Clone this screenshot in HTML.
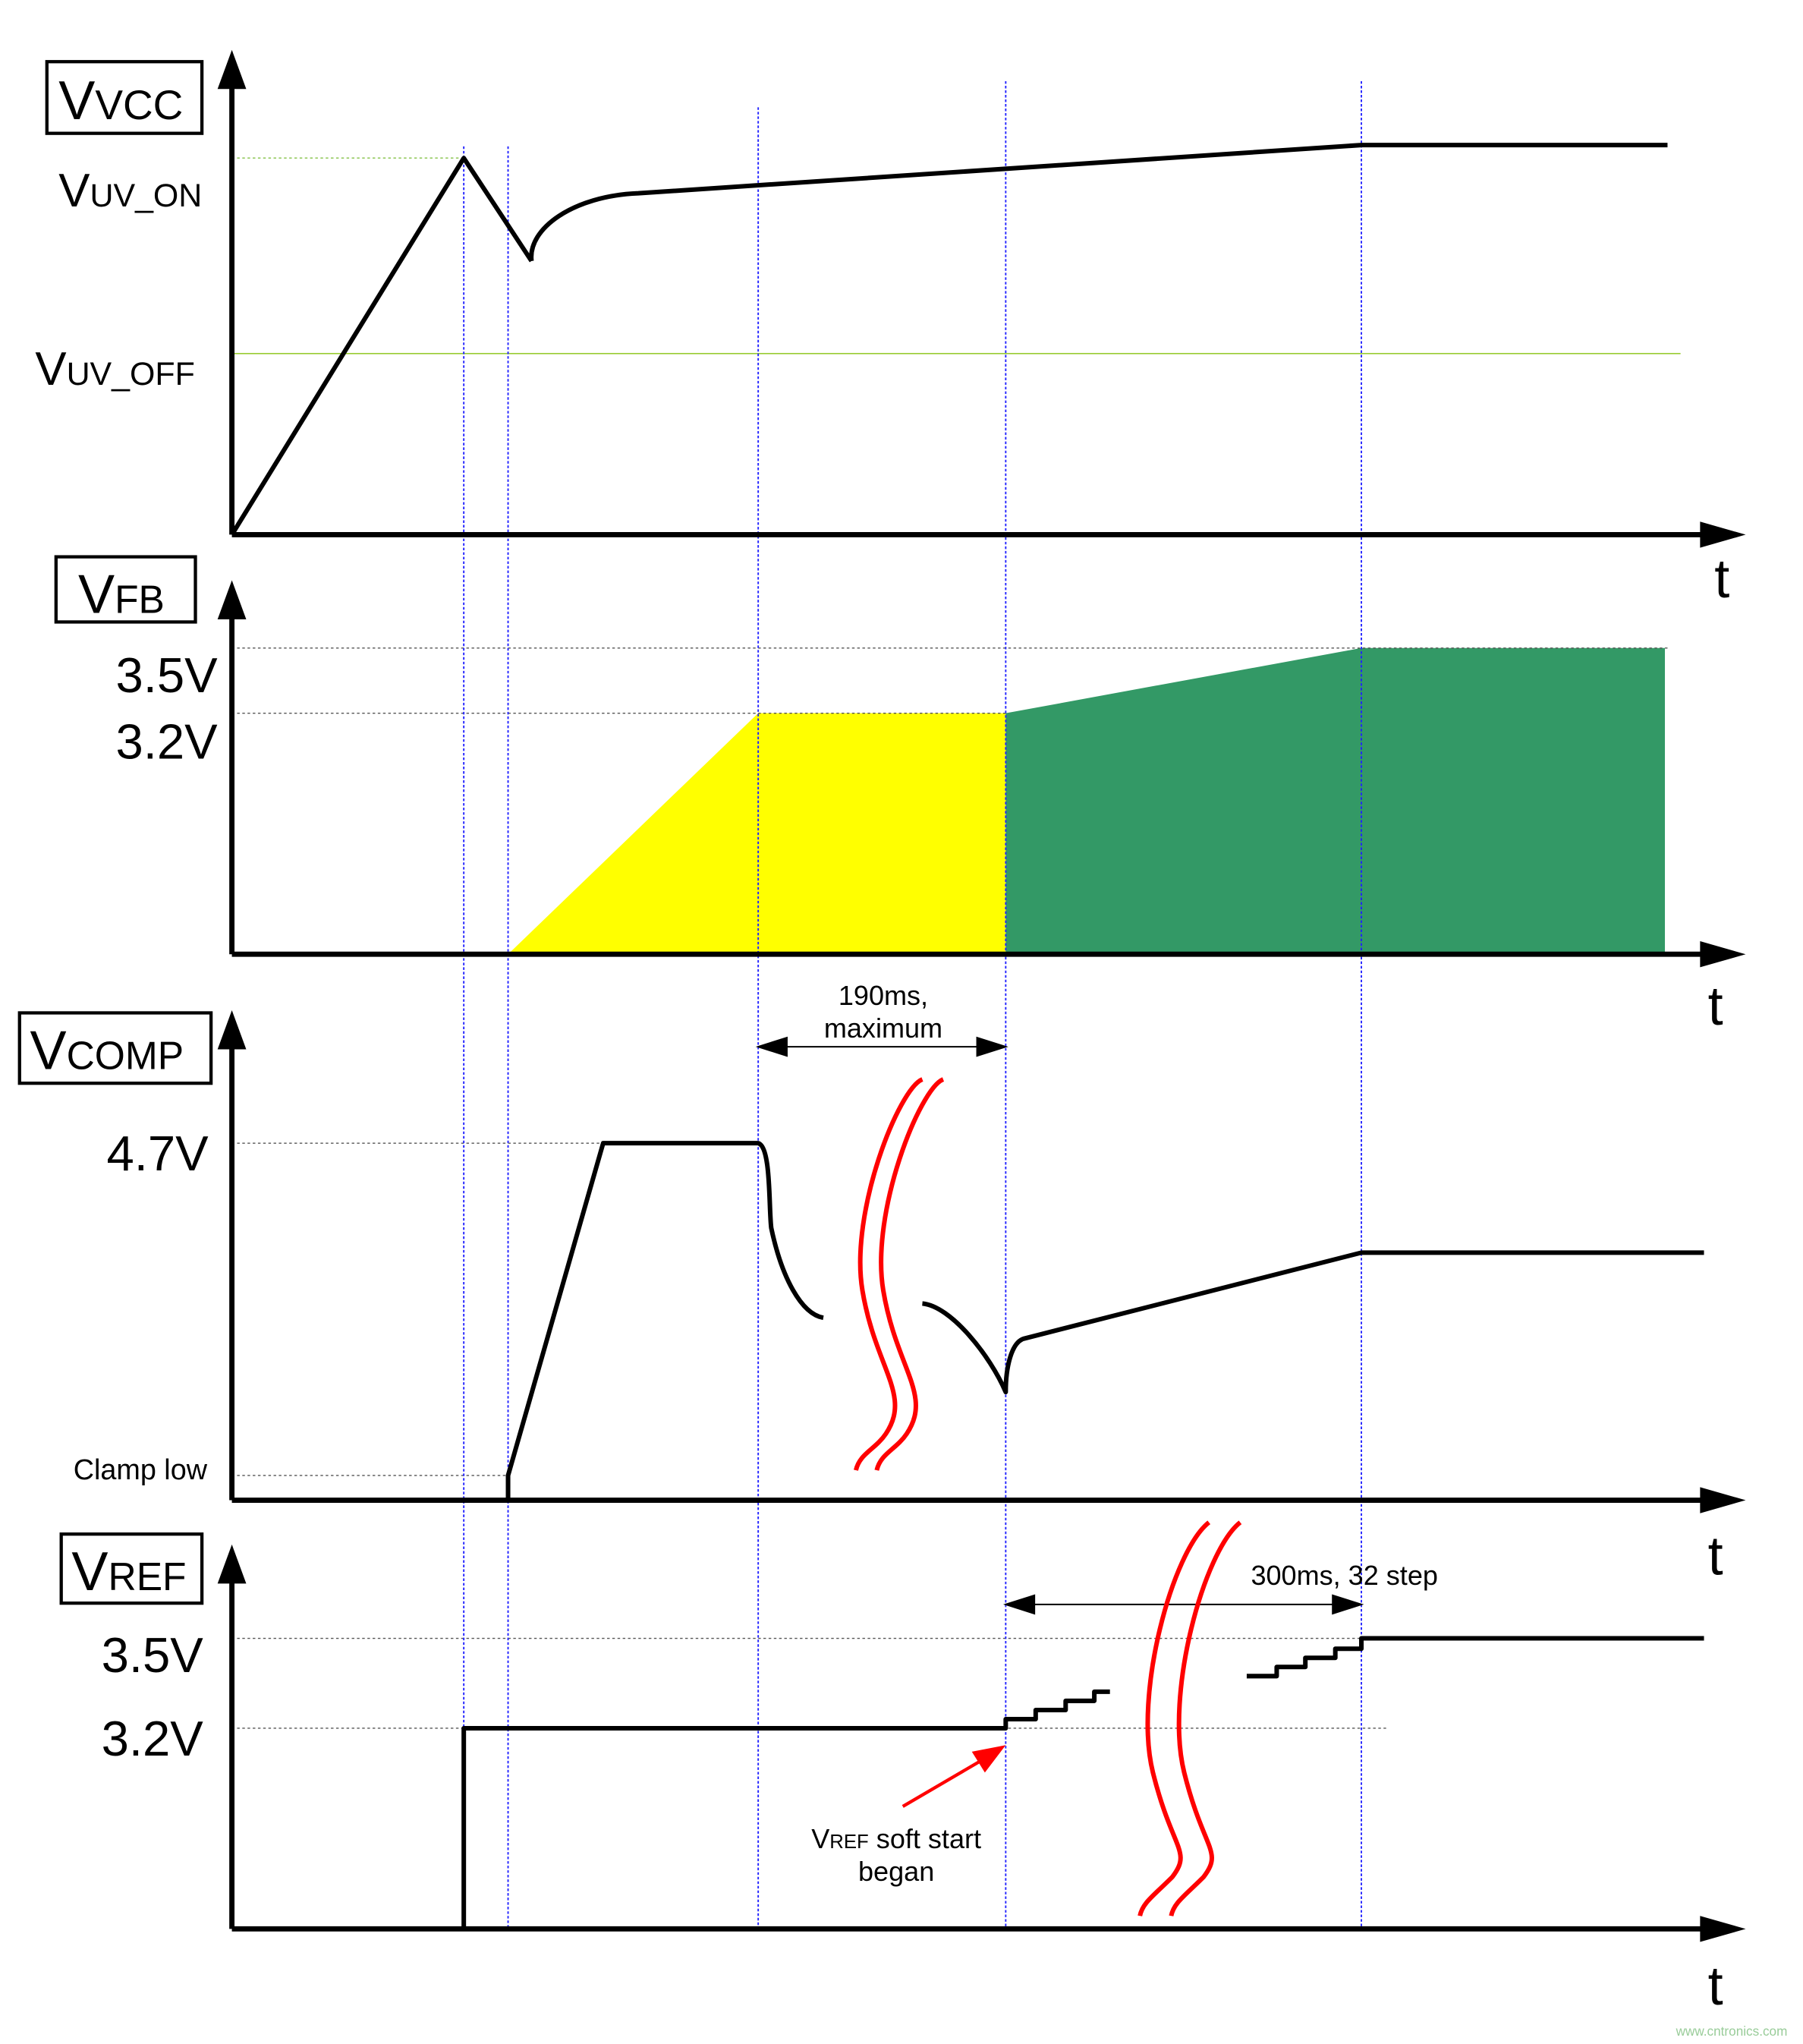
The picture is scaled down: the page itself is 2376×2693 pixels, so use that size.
<!DOCTYPE html>
<html><head><meta charset="utf-8"><style>html,body{margin:0;padding:0;background:#fff}svg{display:block}</style></head><body>
<svg width="2376" height="2693" viewBox="0 0 1384 1568" xmlns="http://www.w3.org/2000/svg" font-family="Liberation Sans, sans-serif">
<polygon points="390,732 582,547 772,547 772,732" fill="#ffff00"/>
<polygon points="772,547 1045,497 1278,497 1278,732 772,732" fill="#339966"/>
<g stroke="#555" stroke-width="0.8" stroke-dasharray="2,2" fill="none">
<line x1="178" y1="497" x2="1280" y2="497"/>
<line x1="178" y1="547" x2="772" y2="547"/>
<line x1="178" y1="877" x2="582" y2="877"/>
<line x1="178" y1="1132" x2="390" y2="1132"/>
<line x1="178" y1="1257" x2="1308" y2="1257"/>
<line x1="178" y1="1326" x2="1065" y2="1326"/>
</g>
<line x1="178" y1="121" x2="355" y2="121" stroke="#9c6" stroke-width="1" stroke-dasharray="2,2"/>
<line x1="178" y1="271" x2="1290" y2="271" stroke="#9c3" stroke-width="1"/>
<g stroke="#22f" stroke-width="1.1" stroke-dasharray="2,1.5">
<line x1="356" y1="112" x2="356" y2="1480"/>
<line x1="390" y1="112" x2="390" y2="1480"/>
<line x1="582" y1="82" x2="582" y2="1480"/>
<line x1="772" y1="62" x2="772" y2="1480"/>
<line x1="1045" y1="62" x2="1045" y2="1480"/>
</g>
<g stroke="#000" stroke-width="4" fill="none">
<line x1="178" y1="410" x2="178" y2="60"/><line x1="178" y1="410" x2="1310" y2="410"/>
<line x1="178" y1="732" x2="178" y2="468"/><line x1="178" y1="732" x2="1310" y2="732"/>
<line x1="178" y1="1151" x2="178" y2="798"/><line x1="178" y1="1151" x2="1310" y2="1151"/>
<line x1="178" y1="1480" x2="178" y2="1208"/><line x1="178" y1="1480" x2="1310" y2="1480"/>
</g>
<g fill="#000">
<polygon points="167,68 178,38 189,68"/><polygon points="1305,400 1340,410 1305,420"/>
<polygon points="167,475 178,445 189,475"/><polygon points="1305,722 1340,732 1305,742"/>
<polygon points="167,805 178,775 189,805"/><polygon points="1305,1141 1340,1151 1305,1161"/>
<polygon points="167,1215 178,1185 189,1215"/><polygon points="1305,1470 1340,1480 1305,1490"/>
</g>
<g stroke="#000" stroke-width="3.5" fill="none" stroke-linejoin="round">
<polyline points="178,410 356,121 408,200"/>
<path d="M408,200 C405,175 440,150 490,148 L1045,111 L1280,111"/>
<path d="M390,1151 L390,1132 L463,877 L582,877 C592,880 590,925 592,942 C600,980 615,1008 632,1011"/>
<path d="M708,1000 C730,1002 760,1040 772,1068 C772,1050 776,1030 786,1027 L1045,961 L1308,961"/>
<polyline points="356,1480 356,1326 772,1326 772,1319 795,1319 795,1312 818,1312 818,1305 840,1305 840,1298 852,1298"/>
<polyline points="957,1286 980,1286 980,1279 1002,1279 1002,1272 1025,1272 1025,1265 1045,1265 1045,1257 1308,1257"/>
</g>
<g stroke="#000" stroke-width="1.2" fill="#000">
<line x1="590" y1="803" x2="764" y2="803"/><polygon points="582,803 604,796 604,810"/><polygon points="772,803 750,796 750,810"/>
<line x1="780" y1="1231" x2="1037" y2="1231"/><polygon points="772,1231 794,1224 794,1238"/><polygon points="1045,1231 1023,1224 1023,1238"/>
</g>
<g stroke="#f00" stroke-width="3.5" fill="none">
<path d="M708,828 C690,835 652,930 662,990 C672,1050 700,1070 680,1100 C672,1112 660,1115 657,1128"/>
<path d="M724,828 C706,835 668,930 678,990 C688,1050 716,1070 696,1100 C688,1112 676,1115 673,1128"/>
<path d="M928,1168 C900,1190 870,1300 885,1360 C900,1420 915,1420 900,1440 C885,1455 877,1460 875,1470"/>
<path d="M952,1168 C924,1190 894,1300 909,1360 C924,1420 939,1420 924,1440 C909,1455 901,1460 899,1470"/>
<line x1="693" y1="1386" x2="758" y2="1348" stroke-width="2.5"/>
</g>
<polygon points="772,1339 746,1344 756,1360" fill="#f00"/>
<g stroke="#000" stroke-width="2.5" fill="none">
<rect x="36" y="47" width="119" height="55"/>
<rect x="43" y="427" width="107" height="50"/>
<rect x="15" y="777" width="147" height="54"/>
<rect x="47" y="1177" width="108" height="53"/>
</g>
<g fill="#000">
<text x="45" y="91" font-size="42">V<tspan font-size="32">VCC</tspan></text>
<text x="60" y="470" font-size="42">V<tspan font-size="30">FB</tspan></text>
<text x="23" y="820" font-size="42">V<tspan font-size="30">COMP</tspan></text>
<text x="55" y="1220" font-size="42">V<tspan font-size="30">REF</tspan></text>
<text x="45" y="158" font-size="36">V<tspan font-size="25">UV_ON</tspan></text>
<text x="27" y="295" font-size="36">V<tspan font-size="25">UV_OFF</tspan></text>
<g font-size="38" text-anchor="end">
<text x="167" y="531">3.5V</text><text x="167" y="582">3.2V</text>
<text x="160" y="898">4.7V</text>
<text x="156" y="1283">3.5V</text><text x="156" y="1347">3.2V</text>
</g>
<text x="159" y="1135" font-size="22" text-anchor="end">Clamp low</text>
<g font-size="42"><text x="1316" y="458">t</text><text x="1311" y="786">t</text><text x="1311" y="1208">t</text><text x="1311" y="1538">t</text></g>
<g font-size="21" text-anchor="middle">
<text x="678" y="771">190ms,</text><text x="678" y="796">maximum</text>
<text x="1032" y="1216">300ms, 32 step</text>
<text x="688" y="1418">V<tspan font-size="15">REF</tspan> soft start</text>
<text x="688" y="1443">began</text>
</g>
<text x="1372" y="1562" font-size="10" fill="#9c9" text-anchor="end">www.cntronics.com</text>
</g>
</svg>
</body></html>
